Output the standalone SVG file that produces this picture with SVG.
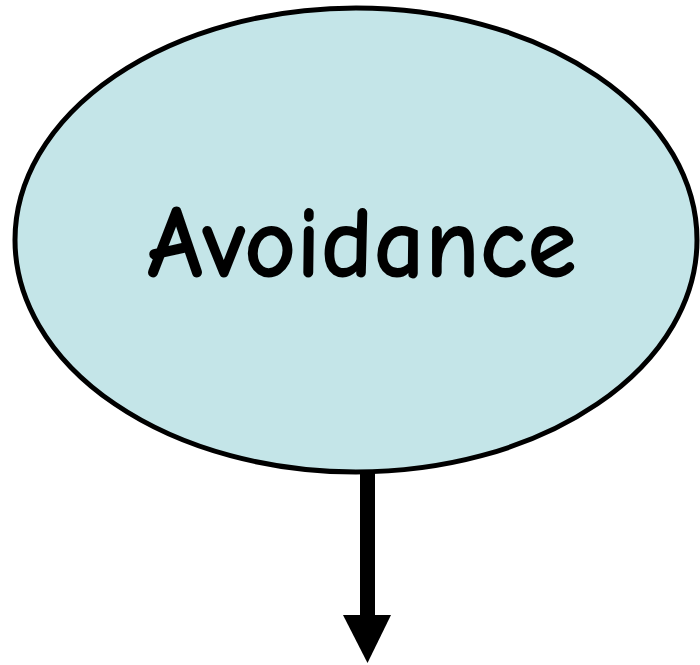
<svg xmlns="http://www.w3.org/2000/svg" width="700" height="665" viewBox="0 0 700 665">
<style>
.node{fill:#c4e5e8;stroke:#000;stroke-width:5}
.label{font-family:"Comic Neue","DejaVu Sans","Liberation Sans",sans-serif;font-size:103px;font-weight:bold;fill:#000}
</style>
<rect width="700" height="665" fill="#fff"/>
<g id="connectors">
<rect x="360" y="470" width="15" height="147" fill="#000"/>
<polygon points="343,615 391,615 367.5,663" fill="#000"/>
</g>
<g id="avoidance">
<ellipse class="node" cx="356" cy="240" rx="341" ry="232"/>
<text class="label" x="147" y="277" textLength="430" lengthAdjust="spacingAndGlyphs">Avoidance</text>
</g>
</svg>
